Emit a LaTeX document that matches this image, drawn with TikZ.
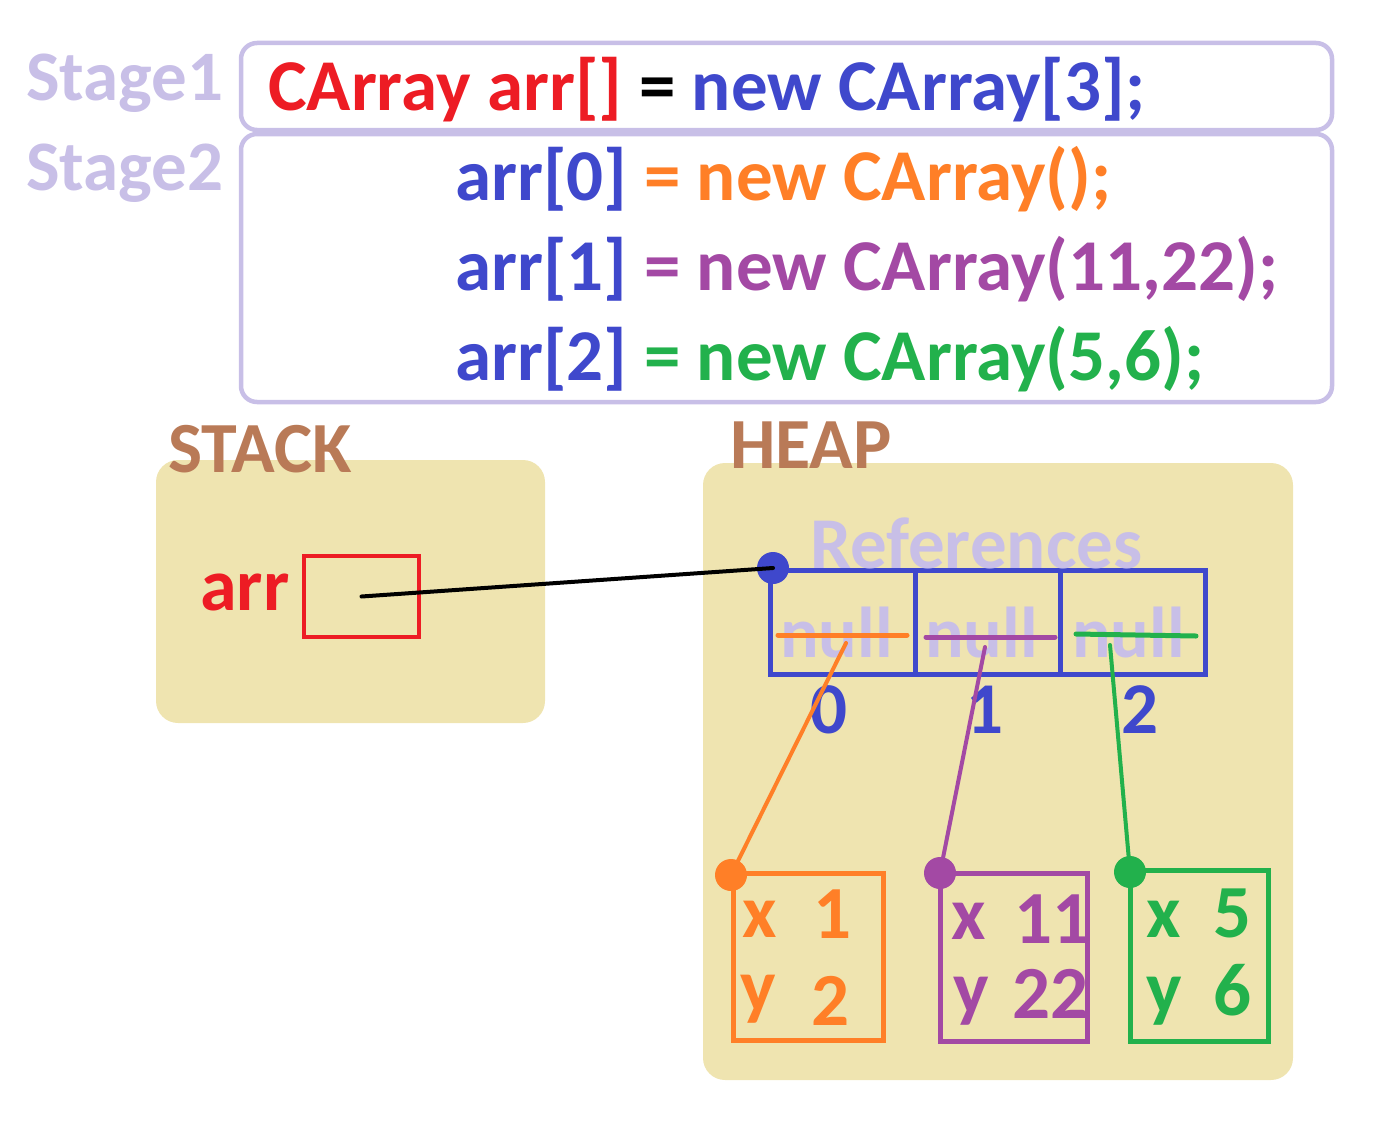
\documentclass[tikz,border=0pt]{standalone}
\usepackage{fontspec}
\setmainfont{Carlito}
\usetikzlibrary{positioning}
\definecolor{codered}{RGB}{237,28,36}
\definecolor{codeblue}{RGB}{63,72,204}
\definecolor{codeorange}{RGB}{255,127,39}
\definecolor{codepurple}{RGB}{163,73,164}
\definecolor{codegreen}{RGB}{34,177,76}
\definecolor{lavender}{RGB}{200,191,231}
\definecolor{memtan}{RGB}{239,228,176}
\definecolor{membrown}{RGB}{185,122,87}
\tikzset{
  txt/.style = {inner sep=0pt, anchor=base west, font=\fontsize{#1}{#1}\selectfont\bfseries},
  txt/.default = 72,
  stagebox/.style = {draw=lavender, line width=4.5pt, rounded corners=16pt},
  memory/.style = {fill=memtan, rounded corners=22pt},
  cell/.style = {
    rectangle, draw=codeblue, line width=5pt,
    minimum width=145pt, minimum height=104pt, inner sep=0pt, outer sep=0pt
  },
  object/.style = {rectangle, draw=#1, line width=5pt, inner sep=0pt, outer sep=0pt},
  dot/.style = {circle, fill=#1, minimum size=32pt, inner sep=0pt},
  link/.style = {line width=4pt, line cap=round},
  strike/.style = {draw=#1, line width=5pt, line cap=round},
}

\begin{document}
\begin{tikzpicture}[x=1pt, y=-1pt]
  \useasboundingbox (0,0) rectangle (1388,1124);
  % code
  \node[txt=71, text=lavender] (stage1) at (26,100) {Stage1};
  \node[txt=71, text=lavender] (stage2) at (26,190) {Stage2};
  \draw[stagebox] (241,43) rectangle (1332,130);
  \draw[stagebox] (241,134) rectangle (1332,402);
  \node[txt=73] (decl) at (268,110) {\textcolor{codered}{CArray arr[]} = \textcolor{codeblue}{new CArray[3];}};
  \node[txt=73] (init0) at (455,200) {\textcolor{codeblue}{arr[0]} \textcolor{codeorange}{= new CArray();}};
  \node[txt=73] (init1) at (455,290) {\textcolor{codeblue}{arr[1]} \textcolor{codepurple}{= new CArray(11,22);}};
  \node[txt=73] (init2) at (455,380) {\textcolor{codeblue}{arr[2]} \textcolor{codegreen}{= new CArray(5,6);}};

  % stack and heap
  \fill[memory] (156,460) rectangle (545,723);
  \fill[memory] (703,463) rectangle (1293,1080);
  \node[txt, text=membrown] (stack) at (168,472) {STACK};
  \node[txt, text=membrown] (heap) at (730,468) {HEAP};

  \node[txt=74, text=codered] (arrname) at (200,610) {arr};
  \node[rectangle, draw=codered, line width=4pt, minimum width=115pt, minimum height=81pt] (arrbox) at (361.5,596.5) {};

  % references
  \node[cell] (ref0) at (842.5,622) {};
  \node[cell, right=0pt of ref0] (ref1) {};
  \node[cell, right=0pt of ref1] (ref2) {};
  \node[txt=73, text=lavender] (refs) at (810,568) {References};
  \node[txt=72, text=lavender] (null0) at ([xshift=10pt, yshift=17pt]ref0.south west) {null};
  \node[txt=72, text=lavender] (null1) at ([xshift=10pt, yshift=17pt]ref1.south west) {null};
  \node[txt=72, text=lavender] (null2) at ([xshift=12pt, yshift=17pt]ref2.south west) {null};
  \node[txt=73, text=codeblue, anchor=base] (idx0) at ([xshift=-14pt, yshift=-59pt]ref0.south) {0};
  \node[txt=73, text=codeblue, anchor=base] (idx1) at ([xshift=-3pt, yshift=-59pt]ref1.south) {1};
  \node[txt=73, text=codeblue, anchor=base] (idx2) at ([xshift=7pt, yshift=-59pt]ref2.south) {2};
  \node[dot=codeblue] (refdot) at ([xshift=3pt, yshift=2pt]ref0.north west) {};
  \draw[link] (arrbox.center) -- (refdot.center);

  \draw[strike=codeorange] ([xshift=8pt, yshift=-13pt]ref0.west) -- ([xshift=-8pt, yshift=-13pt]ref0.east);
  \draw[strike=codepurple] ([xshift=11pt, yshift=-15pt]ref1.west) -- ([xshift=-5pt, yshift=-15pt]ref1.east);
  \draw[strike=codegreen] ([xshift=16pt, yshift=-12pt]ref2.west) -- ([xshift=-9pt, yshift=-14pt]ref2.east);
  \coordinate (tail0) at ([xshift=3.5pt, yshift=-21pt]ref0.center);
  \coordinate (tail1) at ([xshift=-2.5pt, yshift=-25pt]ref1.center);
  \coordinate (tail2) at ([xshift=-22.5pt, yshift=-23pt]ref2.center);

  % objects
  \node[object=codeorange, minimum width=150pt, minimum height=167pt] (obj0) at (808,956.5) {};
  \node[object=codepurple, minimum width=147pt, minimum height=168pt] (obj1) at (1013.5,957) {};
  \node[object=codegreen, minimum width=138pt, minimum height=171pt] (obj2) at (1199,955.5) {};
  \node[dot=codeorange] (objdot0) at ([xshift=-2pt, yshift=-2pt]obj0.north west) {};
  \node[dot=codepurple] (objdot1) at (obj1.north west) {};
  \node[dot=codegreen] (objdot2) at ([yshift=-2pt]obj2.north west) {};
  \draw[link, codeorange] (tail0) -- (objdot0.center);
  \draw[link, codepurple] (tail1) -- (objdot1.center);
  \draw[link, codegreen] (tail2) -- (objdot2.center);

  \node[txt=75, text=codeorange] (x0) at (742,937) {x};
  \node[txt=75, text=codeorange] (xv0) at (813,938) {1};
  \node[txt=75, text=codeorange] (y0) at (740,1011) {y};
  \node[txt=75, text=codeorange] (yv0) at (811,1025) {2};
  \node[txt=75, text=codepurple] (x1) at (951,939) {x};
  \node[txt=75, text=codepurple] (xv1) at (1014,943) {11};
  \node[txt=75, text=codepurple] (y1) at (953,1013) {y};
  \node[txt=75, text=codepurple] (yv1) at (1012,1018) {22};
  \node[txt=75, text=codegreen] (x2) at (1146,937) {x};
  \node[txt=75, text=codegreen] (xv2) at (1213,937) {5};
  \node[txt=75, text=codegreen] (y2) at (1146,1013) {y};
  \node[txt=75, text=codegreen] (yv2) at (1213,1015) {6};
\end{tikzpicture}
\end{document}
